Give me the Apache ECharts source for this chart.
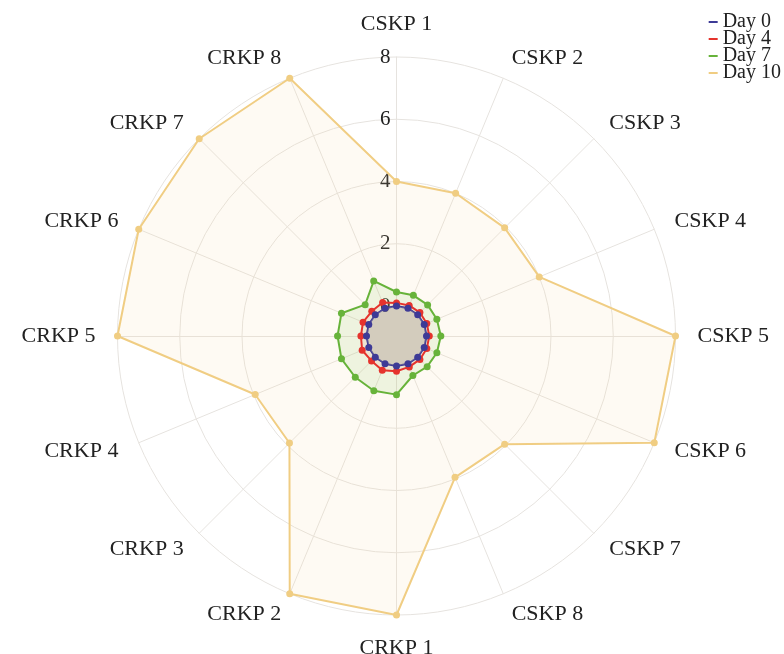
<!DOCTYPE html>
<html><head><meta charset="utf-8">
<script src="https://cdn.jsdelivr.net/npm/echarts@6/dist/echarts.min.js"></script>
<style>html,body{margin:0;padding:0;background:#fff}#c{width:784px;height:654px}</style>
</head><body><div id="c"></div>
<script>
// Categories in clockwise visual order starting from the top
const categories = ['CSKP 1','CSKP 2','CSKP 3','CSKP 4','CSKP 5','CSKP 6','CSKP 7','CSKP 8',
                    'CRKP 1','CRKP 2','CRKP 3','CRKP 4','CRKP 5','CRKP 6','CRKP 7','CRKP 8'];
const seriesNames = ['Day 0','Day 4','Day 7','Day 10'];
const day0  = [0,0,0,0,0,0,0,0,0,0,0,0,0,0,0,0];
const day4  = [0.10,0.10,0.10,0.09,0.09,0.09,0.10,0.11,0.17,0.23,0.17,0.23,0.18,0.20,0.16,0.20];
const day7  = [0.45,0.45,0.45,0.44,0.46,0.44,0.43,0.41,0.92,0.94,0.91,0.95,0.93,0.95,0.46,0.95];
const day10 = [4.0,4.0,3.95,4.0,8.0,8.0,3.95,3.95,8.0,8.0,3.9,3.95,8.0,8.0,8.0,8.0];
const tickValues = [0,2,4,6,8];
const axisMax = 8;

// ECharts radar runs counter-clockwise; reorder so the picture runs clockwise
const order = [0].concat(categories.map((_, i) => i).slice(1).reverse());
const reorder = arr => order.map(i => arr[i]);

const colors = ['#3d3a96','#e5332d','#67b33a','#f0cd82'];
const areaColors = ['rgba(170,165,155,0.55)','rgba(229,51,45,0.10)','rgba(103,179,58,0.15)','rgba(245,215,160,0.18)'];
const allData = [day0, day4, day7, day10];
const FONT = '"Liberation Serif", "DejaVu Serif", serif';

const chart = echarts.init(document.getElementById('c'), null, {renderer: 'canvas'});
chart.setOption({
  animation: false,
  color: colors,
  legend: {
    orient: 'vertical', right: 3, top: 12, itemGap: -3, padding: 0,
    icon: 'rect', itemWidth: 9, itemHeight: 2,
    textStyle: {fontFamily: FONT, fontSize: 20, color: '#222', padding: [0,0,0,0]},
    data: seriesNames
  },
  radar: {
    center: [396.5, 336],
    radius: [30, 279],
    startAngle: 90,
    splitNumber: 4,
    shape: 'circle',
    indicator: reorder(categories).map(n => ({name: n, min: 0, max: axisMax})),
    axisName: {color: '#222', fontFamily: FONT, fontSize: 22},
    nameGap: 22,
    axisLine: {lineStyle: {color: '#e6e3df', width: 1}},
    splitLine: {lineStyle: {color: '#e6e3df', width: 1}},
    splitArea: {show: false},
    axisLabel: {show: false}
  },
  polar: {center: [396.5, 336], radius: [30, 279]},
  angleAxis: {type: 'value', min: 0, max: 360, startAngle: 90, show: false},
  radiusAxis: {
    type: 'value', min: 0, max: axisMax, interval: 2,
    axisLine: {show: false}, axisTick: {show: false}, splitLine: {show: false},
    axisLabel: {show: true, color: '#222', fontFamily: FONT, fontSize: 21, margin: 6,
      formatter: v => tickValues.includes(v) ? String(v) : ''}
  },
  series: [{
    type: 'radar',
    symbol: 'circle', symbolSize: 7,
    z: 2,
    data: allData.map((d, i) => ({
      name: seriesNames[i],
      value: reorder(d),
      lineStyle: {color: colors[i], width: 2},
      itemStyle: {color: colors[i]},
      areaStyle: {color: areaColors[i]}
    })).reverse()
  }]
});
</script></body></html>
